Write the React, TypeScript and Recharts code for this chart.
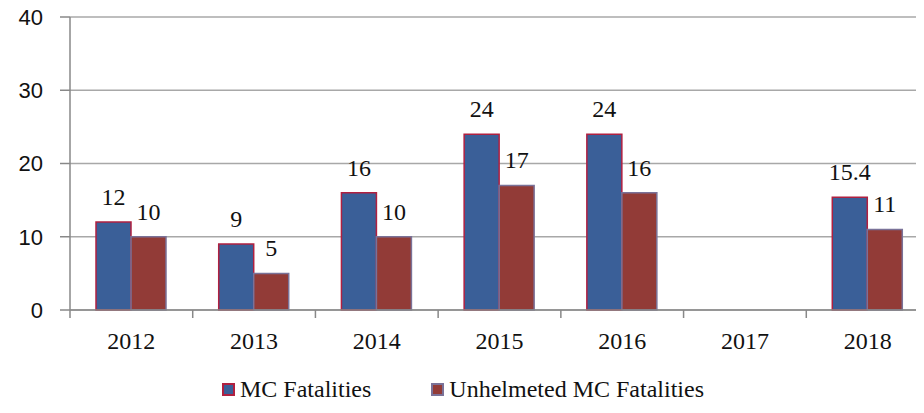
import React from "react";
import { BarChart, Bar, XAxis, YAxis, CartesianGrid, Legend, LabelList } from "recharts";

const years = ["2012", "2013", "2014", "2015", "2016", "2017", "2018"];
const mcFatalities: (number | null)[] = [12, 9, 16, 24, 24, null, 15.4];
const unhelmetedFatalities: (number | null)[] = [10, 5, 10, 17, 16, null, 11];
const yTicks = [0, 10, 20, 30, 40];

const seriesNames = ["MC Fatalities", "Unhelmeted MC Fatalities"];

const data = years.map((y, i) => ({
  year: y,
  mc: mcFatalities[i],
  unh: unhelmetedFatalities[i],
}));

const W = 935;
const H = 413;
const M = { top: 17, right: 6, left: 0, bottom: 0 };
const Y_AXIS_W = 70;
const BAND = (W - M.left - M.right - Y_AXIS_W) / years.length;

const BLUE = "#3A5F98";
const BLUE_STROKE = "#B02040";
const RED = "#923B37";
const RED_STROKE = "#7A7298";
const SERIF = "Liberation Serif, DejaVu Serif, serif";
const SANS = "Liberation Sans, Arial, sans-serif";

const XTick = (props: any) => {
  const { x, y, payload, index } = props;
  const left = x - BAND / 2;
  return (
    <g>
      <line x1={left} y1={y} x2={left} y2={y + 8} stroke="#888" strokeWidth={1.5} />
      {index === years.length - 1 && (
        <line x1={x + BAND / 2} y1={y} x2={x + BAND / 2} y2={y + 8} stroke="#888" strokeWidth={1.5} />
      )}
      <text x={x} y={y + 39} textAnchor="middle" style={{ fontFamily: SERIF }} fontSize={24} fill="#111">
        {payload.value}
      </text>
    </g>
  );
};

const ValueLabel = (props: any) => {
  const { x, y, width, value } = props;
  if (value === null || value === undefined) return null;
  return (
    <text x={x + width / 2} y={y - 17} textAnchor="middle" style={{ fontFamily: SERIF }} fontSize={24} fill="#111">
      {value}
    </text>
  );
};

const LegendContent = () => {
  const colors = [
    { fill: BLUE, stroke: BLUE_STROKE },
    { fill: RED, stroke: RED_STROKE },
  ];
  return (
    <div
      style={{
        paddingLeft: 222,
        paddingTop: 6,
        display: "flex",
        justifyContent: "flex-start",
        gap: 60,
        fontFamily: SERIF,
        fontSize: 24,
        color: "#111",
        height: 47,
        alignItems: "center",
      }}
    >
      {seriesNames.map((n, i) => (
        <div key={n} style={{ display: "flex", alignItems: "center" }}>
          <span
            style={{
              display: "inline-block",
              width: 9,
              height: 9,
              background: colors[i].fill,
              border: `2px solid ${colors[i].stroke}`,
              marginRight: 5,
            }}
          />
          <span>{n}</span>
        </div>
      ))}
    </div>
  );
};

export default function App() {
  return (
    <div style={{ margin: -8, width: 924, height: 413, overflow: "hidden", background: "#fff" }}>
      <BarChart width={W} height={H} data={data} margin={M} barGap={0} barSize={35}>
        <CartesianGrid vertical={false} stroke="#A8A8A8" strokeWidth={1.5} />
        <XAxis
          dataKey="year"
          height={50}
          tickLine={false}
          tickSize={0}
          tickMargin={0}
          axisLine={{ stroke: "#888", strokeWidth: 1.5 }}
          tick={<XTick />}
          interval={0}
        />
        <YAxis
          width={Y_AXIS_W}
          domain={[0, 40]}
          ticks={yTicks}
          interval={0}
          tickSize={10}
          tickMargin={17}
          axisLine={{ stroke: "#888", strokeWidth: 1.5 }}
          tickLine={{ stroke: "#888", strokeWidth: 1.5 }}
          tick={{ fontFamily: SANS, fontSize: 22, fill: "#111" }}
        />
        <Legend verticalAlign="bottom" align="left" height={53} content={<LegendContent />} wrapperStyle={{ left: 0, width: W }} />
        <Bar dataKey="mc" name={seriesNames[0]} fill={BLUE} stroke={BLUE_STROKE} strokeWidth={1.5} isAnimationActive={false}>
          <LabelList dataKey="mc" content={<ValueLabel />} />
        </Bar>
        <Bar dataKey="unh" name={seriesNames[1]} fill={RED} stroke={RED_STROKE} strokeWidth={1.5} isAnimationActive={false}>
          <LabelList dataKey="unh" content={<ValueLabel />} />
        </Bar>
      </BarChart>
    </div>
  );
}
